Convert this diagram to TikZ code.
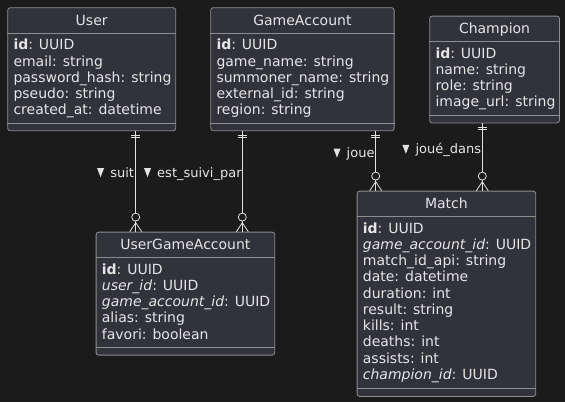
\documentclass[tikz,border=0pt]{standalone}
\usepackage{fontspec}
\setmainfont{DejaVu Sans}
\usepackage{xcolor}
\usepackage{tikz}
\usetikzlibrary{calc}
\definecolor{canvas}{HTML}{1B1B1B}
\definecolor{panel}{HTML}{31323A}
\definecolor{frame}{HTML}{8E8E8E}
\definecolor{ink}{HTML}{E6E6E6}
\definecolor{wire}{HTML}{E2E2E2}

% #1 name, #2 top-left corner, #3 width, #4 height, #5 title, #6 fields
\newcommand{\entity}[6]{%
  \node[entbox, minimum width=#3pt, minimum height=#4pt, anchor=north west] (#1) at #2 {};
  \node[enttitle, anchor=base] (#1-title) at ($(#1.north)+(0,17.8)$) {#5};
  \draw[divider] ($(#1.north west)+(0,26)$) -- ($(#1.north east)+(0,26)$);
  \draw[divider] ($(#1.south west)+(0,-8)$) -- ($(#1.south east)+(0,-8)$);
  \foreach \f [count=\i] in {#6}
    \node[field, anchor=base west] (#1-f\i) at ($(#1.north west)+(6,{26.25+16.25*\i})$) {\f};
}
\newcommand{\exactlyone}[1]{%
  \draw[rel] ($(#1)+(-4.5,4)$) -- ++(9,0);
  \draw[rel] ($(#1)+(-4.5,6.5)$) -- ++(9,0);
}
\newcommand{\zeroormany}[1]{%
  \draw[rel] ($(#1)+(-6,0)$) -- ($(#1)+(0,-9)$) -- ($(#1)+(6,0)$);
  \draw[rel, fill=canvas] ($(#1)+(0,-14.6)$) circle (4);
}
\newcommand{\dirmark}[1]{%
  \fill[wire] ($(#1.base west)+(-13,-9)$) -- ++(7,0) -- ++(-3.5,9) -- cycle;
}

\begin{document}
\begin{tikzpicture}[
  x=1pt, y=-1pt,
  entbox/.style={draw=frame, fill=panel, line width=0.8pt, rounded corners=2.5pt, inner sep=0pt},
  enttitle/.style={text=ink, inner sep=0pt, font=\fontsize{14}{16}\selectfont},
  field/.style={text=ink, inner sep=0pt, font=\fontsize{14}{16}\selectfont},
  divider/.style={draw=frame, line width=0.8pt},
  rel/.style={draw=wire, line width=0.8pt},
  rolename/.style={text=ink, inner sep=0pt, font=\fontsize{13}{15}\selectfont}
]
  \fill[canvas] (0,0) rectangle (565,402);

  % entities
  \entity{user}{(7.3,7.3)}{168}{123}{User}{%
    {\textbf{id}: UUID}, {email: string}, {password\_hash: string},
    {pseudo: string}, {created\_at: datetime}}
  \entity{gameaccount}{(210.3,7.3)}{183.4}{123}{GameAccount}{%
    {\textbf{id}: UUID}, {game\_name: string}, {summoner\_name: string},
    {external\_id: string}, {region: string}}
  \entity{champion}{(429.3,15.7)}{129.7}{106.8}{Champion}{%
    {\textbf{id}: UUID}, {name: string}, {role: string}, {image\_url: string}}
  \entity{match}{(356.7,190.7)}{178.6}{205.3}{Match}{%
    {\textbf{id}: UUID}, {\textit{game\_account\_id}: UUID}, {match\_id\_api: string},
    {date: datetime}, {duration: int}, {result: string}, {kills: int},
    {deaths: int}, {assists: int}, {\textit{champion\_id}: UUID}}
  \entity{usergameaccount}{(95.7,231.7)}{178.6}{123}{UserGameAccount}{%
    {\textbf{id}: UUID}, {\textit{user\_id}: UUID}, {\textit{game\_account\_id}: UUID},
    {alias: string}, {favori: boolean}}

  % relation ends
  \coordinate (user-out) at ($(user.south west)+(128.4,0)$);
  \coordinate (uga-in1) at (user-out |- usergameaccount.north);
  \coordinate (ga-out1) at ($(gameaccount.south west)+(32,0)$);
  \coordinate (uga-in2) at (ga-out1 |- usergameaccount.north);
  \coordinate (ga-out2) at ($(gameaccount.south west)+(165.4,0)$);
  \coordinate (match-in1) at (ga-out2 |- match.north);
  \coordinate (champ-out) at ($(champion.south west)+(53,0)$);
  \coordinate (match-in2) at (champ-out |- match.north);

  % relations
  \draw[rel] (user-out) -- (uga-in1);
  \draw[rel] (ga-out1) -- (uga-in2);
  \draw[rel] (ga-out2) -- (match-in1);
  \draw[rel] (champ-out) -- (match-in2);
  \exactlyone{user-out}
  \exactlyone{ga-out1}
  \exactlyone{ga-out2}
  \exactlyone{champ-out}
  \zeroormany{uga-in1}
  \zeroormany{uga-in2}
  \zeroormany{match-in1}
  \zeroormany{match-in2}

  % role names
  \node[rolename, anchor=base east] (suit) at ($(user-out)+(-1.5,46)$) {suit};
  \node[rolename, anchor=base east] (suivi) at ($(ga-out1)+(-0.5,46)$) {est\_suivi\_par};
  \node[rolename, anchor=base east] (joue) at ($(ga-out2)+(-1,26.5)$) {joue};
  \node[rolename, anchor=base east] (jouedans) at ($(champ-out)+(-1,30.5)$) {joué\_dans};
  \dirmark{suit}
  \dirmark{suivi}
  \dirmark{joue}
  \dirmark{jouedans}
\end{tikzpicture}
\end{document}
